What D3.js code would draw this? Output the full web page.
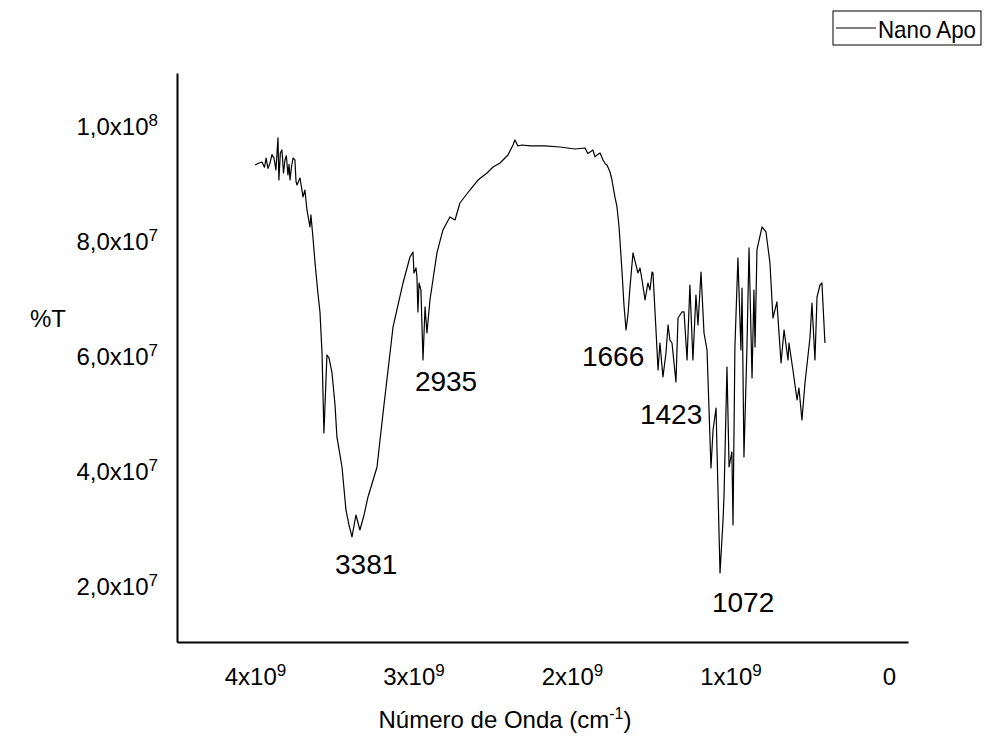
<!DOCTYPE html>
<html>
<head>
<meta charset="utf-8">
<script src="https://d3js.org/d3.v7.min.js"></script>
<style>
  body { margin: 0; background: #fff; }
  text { font-family: "Liberation Sans", Arial, sans-serif; fill: #000; }
</style>
</head>
<body>
<svg id="chart" width="984" height="743"></svg>
<script>
// wavenumber in axis units of 1e9, %T in units of 1e7
const wave = [4.000, 3.978, 3.956, 3.940, 3.930, 3.918, 3.905, 3.893, 3.880, 3.868,
  3.855, 3.849, 3.840, 3.830, 3.820, 3.811, 3.802, 3.792, 3.785, 3.779,
  3.770, 3.760, 3.748, 3.741, 3.735, 3.716, 3.697, 3.685, 3.672, 3.653,
  3.647, 3.634, 3.621, 3.603, 3.590, 3.577, 3.565, 3.546, 3.533, 3.514,
  3.495, 3.483, 3.451, 3.426, 3.407, 3.388, 3.363, 3.338, 3.312, 3.287,
  3.230, 3.192, 3.129, 3.066, 3.022, 3.003, 2.997, 2.984, 2.978, 2.972,
  2.965, 2.953, 2.940, 2.927, 2.915, 2.896, 2.852, 2.814, 2.770, 2.738,
  2.707, 2.644, 2.593, 2.536, 2.498, 2.454, 2.404, 2.372, 2.360, 2.341,
  2.315, 2.265, 2.170, 2.076, 1.981, 1.918, 1.900, 1.886, 1.868, 1.855,
  1.842, 1.823, 1.804, 1.790, 1.779, 1.760, 1.748, 1.729, 1.716, 1.703,
  1.685, 1.672, 1.659, 1.647, 1.634, 1.615, 1.584, 1.571, 1.558, 1.539,
  1.521, 1.508, 1.495, 1.489, 1.470, 1.457, 1.445, 1.426, 1.407, 1.394,
  1.382, 1.369, 1.344, 1.331, 1.306, 1.293, 1.274, 1.256, 1.237, 1.218,
  1.205, 1.186, 1.167, 1.148, 1.123, 1.110, 1.091, 1.085, 1.066, 1.047,
  1.041, 1.022, 1.009, 0.991, 0.984, 0.972, 0.953, 0.934, 0.927, 0.915,
  0.896, 0.883, 0.864, 0.852, 0.845, 0.833, 0.801, 0.776, 0.751, 0.732,
  0.707, 0.681, 0.662, 0.637, 0.631, 0.606, 0.580, 0.568, 0.549, 0.530,
  0.498, 0.486, 0.467, 0.454, 0.435, 0.423, 0.404];
const trans = [9.339, 9.370, 9.391, 9.300, 9.460, 9.280, 9.374, 9.520, 9.461, 9.252,
  9.809, 9.078, 9.550, 9.600, 9.200, 9.426, 9.500, 9.165, 9.350, 9.078,
  9.300, 9.461, 9.426, 9.050, 8.991, 9.113, 8.783, 8.904, 8.557, 8.261,
  8.470, 8.070, 7.635, 7.113, 6.783, 6.070, 4.678, 6.035, 5.983, 5.722,
  5.165, 4.609, 4.087, 3.339, 3.078, 2.870, 3.252, 2.991, 3.252, 3.565,
  4.087, 5.026, 6.522, 7.287, 7.739, 7.826, 7.461, 7.548, 7.391, 6.783,
  7.287, 7.165, 5.948, 6.870, 6.417, 6.991, 7.809, 8.209, 8.435, 8.383,
  8.678, 8.904, 9.078, 9.200, 9.304, 9.374, 9.513, 9.687, 9.774, 9.670,
  9.687, 9.670, 9.670, 9.652, 9.617, 9.635, 9.540, 9.565, 9.600, 9.480,
  9.513, 9.548, 9.426, 9.360, 9.339, 9.217, 9.078, 8.783, 8.609, 8.261,
  7.513, 6.904, 6.470, 6.730, 7.217, 7.809, 7.461, 7.548, 7.339, 6.991,
  7.287, 7.165, 7.478, 7.461, 6.470, 5.774, 6.243, 5.652, 6.070, 6.557,
  6.296, 6.243, 5.565, 6.678, 6.783, 6.783, 5.948, 7.252, 5.948, 7.078,
  6.557, 7.478, 6.417, 6.122, 4.070, 4.730, 5.113, 4.383, 2.243, 3.165,
  3.565, 5.826, 4.087, 4.348, 3.078, 6.174, 7.722, 6.122, 7.200, 4.261,
  6.174, 7.896, 5.635, 7.165, 6.174, 7.861, 8.261, 8.174, 7.635, 6.678,
  6.957, 5.896, 6.470, 5.948, 6.243, 5.774, 5.252, 5.461, 4.904, 5.548,
  6.348, 6.939, 5.948, 7.043, 7.252, 7.287, 6.243];

const xTicks = [4, 3, 2, 1, 0];
const xTickBase = ["4x10", "3x10", "2x10", "1x10", "0"];
const xTickExp = ["9", "9", "9", "9", ""];
const yTicks = [10, 8, 6, 4, 2];
const yTickBase = ["1,0x10", "8,0x10", "6,0x10", "4,0x10", "2,0x10"];
const yTickExp = ["8", "7", "7", "7", "7"];

// peak annotations: text and where the text starts (data units)
const peakLabels = ["3381", "2935", "1666", "1423", "1072"];
const peakWave = [3.495, 2.991, 1.937, 1.571, 1.117];
const peakT = [2.226, 5.409, 5.843, 4.835, 1.565];

const seriesName = "Nano Apo";

const svg = d3.select("#chart");

const x = d3.scaleLinear().domain([4.492, -0.120]).range([177, 908]);
const y = d3.scaleLinear().domain([1.043, 10.939]).range([642, 73]);

const data = wave.map((w, i) => ({ w: w, t: trans[i] }));

function supLabels(sel, base, exp) {
    sel.selectAll(".tick text").each(function (d, i) {
        const t = d3.select(this).text(null);
        t.append("tspan").text(base[i]);
        if (exp[i]) t.append("tspan").attr("dy", -9).attr("font-size", 17).text(exp[i]);
    });
}

const xAxis = svg.append("g")
    .attr("transform", "translate(0,642)")
    .call(d3.axisBottom(x).tickValues(xTicks).tickSize(0).tickPadding(26));
xAxis.call(supLabels, xTickBase, xTickExp);

const yAxis = svg.append("g")
    .attr("transform", "translate(177,0)")
    .call(d3.axisLeft(y).tickValues(yTicks).tickSize(0).tickPadding(19));
yAxis.call(supLabels, yTickBase, yTickExp);

svg.selectAll("g .domain").attr("stroke", "#000").attr("stroke-width", 2);
svg.selectAll(".tick text").attr("font-size", 24)
    .attr("font-family", '"Liberation Sans", Arial, sans-serif');

svg.append("path")
    .datum(data)
    .attr("fill", "none")
    .attr("stroke", "#000")
    .attr("stroke-width", 1.2)
    .attr("stroke-linejoin", "round")
    .attr("d", d3.line().x(d => x(d.w)).y(d => y(d.t)));

svg.selectAll(".peak")
    .data(peakLabels)
    .join("text")
    .attr("class", "peak")
    .attr("x", (d, i) => x(peakWave[i]))
    .attr("y", (d, i) => y(peakT[i]))
    .attr("font-size", 28)
    .text(d => d);

// axis titles
svg.append("text")
    .attr("x", 30).attr("y", 327)
    .attr("font-size", 24)
    .text("%T");

const xt = svg.append("text")
    .attr("x", 505).attr("y", 728)
    .attr("text-anchor", "middle")
    .attr("font-size", 24);
xt.append("tspan").text("Número de Onda (cm");
xt.append("tspan").attr("dy", -9).attr("font-size", 16).text("-1");
xt.append("tspan").attr("dy", 9).text(")");

// legend
const lg = svg.append("g");
lg.append("rect")
    .attr("x", 833).attr("y", 11).attr("width", 148).attr("height", 34)
    .attr("fill", "#fff").attr("stroke", "#000").attr("stroke-width", 1);
lg.append("line")
    .attr("x1", 836).attr("x2", 876).attr("y1", 28).attr("y2", 28)
    .attr("stroke", "#000").attr("stroke-width", 1.2);
lg.append("text")
    .attr("x", 878).attr("y", 38)
    .attr("font-size", 24)
    .attr("textLength", 98)
    .attr("lengthAdjust", "spacingAndGlyphs")
    .text(seriesName);
</script>
</body>
</html>
